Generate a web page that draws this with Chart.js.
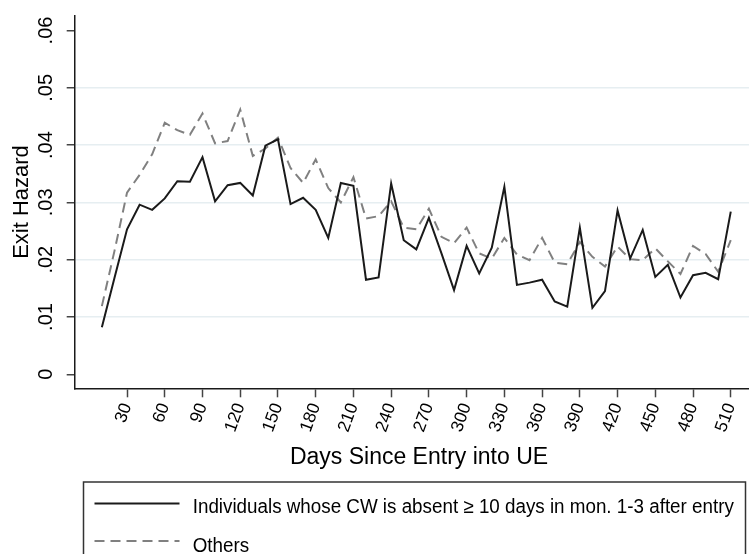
<!DOCTYPE html>
<html lang="en">
<head>
    <meta charset="UTF-8">
    <title>Exit Hazard by Days Since Entry into UE</title>
    <style>
        html, body { margin: 0; padding: 0; background: #fff; }
        .chart { width: 749px; height: 554px; }
    </style>
</head>
<body>
    <div class="chart">
        <canvas id="hazardChart" width="749" height="554"></canvas>
    </div>

    <script src="https://cdn.jsdelivr.net/npm/chart.js"></script>
    <script>
        const days = [10, 20, 30, 40, 50, 60, 70, 80, 90, 100,
                      110, 120, 130, 140, 150, 160, 170, 180, 190, 200,
                      210, 220, 230, 240, 250, 260, 270, 280, 290, 300,
                      310, 320, 330, 340, 350, 360, 370, 380, 390, 400,
                      410, 420, 430, 440, 450, 460, 470, 480, 490, 500, 510];

        const absentHazard = [0.0082, 0.0168, 0.0253, 0.0296, 0.0287, 0.0307, 0.0337, 0.0336, 0.0379, 0.0302,
                              0.0330, 0.0334, 0.0312, 0.0399, 0.0410, 0.0297, 0.0308, 0.0287, 0.0238, 0.0334,
                              0.0329, 0.0165, 0.0169, 0.0333, 0.0234, 0.0218, 0.0273, 0.0211, 0.0147, 0.0224,
                              0.0176, 0.0221, 0.0327, 0.0156, 0.0160, 0.0165, 0.0127, 0.0118, 0.0256, 0.0116,
                              0.0145, 0.0286, 0.0202, 0.0252, 0.0170, 0.0191, 0.0134, 0.0173, 0.0177, 0.0166, 0.0284];

        const othersHazard = [0.0119, 0.0215, 0.0317, 0.0348, 0.0384, 0.0439, 0.0426, 0.0418, 0.0455, 0.0403,
                              0.0407, 0.0462, 0.0381, 0.0394, 0.0413, 0.0360, 0.0334, 0.0375, 0.0325, 0.0300,
                              0.0344, 0.0272, 0.0276, 0.0302, 0.0256, 0.0253, 0.0289, 0.0240, 0.0229, 0.0256,
                              0.0211, 0.0202, 0.0238, 0.0209, 0.0199, 0.0238, 0.0195, 0.0192, 0.0231, 0.0205,
                              0.0188, 0.0223, 0.0201, 0.0199, 0.0220, 0.0197, 0.0175, 0.0224, 0.0210, 0.0179, 0.0234];

        const xTicks = [30, 60, 90, 120, 150, 180, 210, 240, 270, 300, 330, 360, 390, 420, 450, 480, 510];
        const yTicks = [0, 0.01, 0.02, 0.03, 0.04, 0.05, 0.06];
        const yTickLabels = ['0', '.01', '.02', '.03', '.04', '.05', '.06'];
        const xTitle = 'Days Since Entry into UE';
        const seriesNames = ['Individuals whose CW is absent \u2265 10 days in mon. 1-3 after entry', 'Others'];

        const fontFamily = '"Liberation Sans", Arial, Helvetica, sans-serif';
        Chart.defaults.font.family = fontFamily;
        Chart.defaults.color = '#000';

        const toPoints = (vals) => days.map((d, i) => ({ x: d, y: vals[i] }));

        // x title + boxed legend underneath, like the Stata one
        // (stata centres these on a plot region that runs a little past the picture)
        const boxLegend = {
            id: 'boxLegend',
            afterDraw(chart) {
                const ctx = chart.ctx;
                const rows = [503.5, 541];
                const baselines = [513.3, 551.5];
                ctx.save();

                ctx.font = '23px ' + fontFamily;
                ctx.fillStyle = '#000';
                ctx.textAlign = 'center';
                ctx.textBaseline = 'alphabetic';
                ctx.fillText(xTitle, 419, 464);

                ctx.strokeStyle = '#333';
                ctx.lineWidth = 1.5;
                ctx.strokeRect(83.5, 482, 662, 100);
                ctx.font = '20px ' + fontFamily;
                ctx.textAlign = 'left';
                chart.data.datasets.forEach((ds, i) => {
                    ctx.beginPath();
                    ctx.strokeStyle = ds.borderColor;
                    ctx.lineWidth = ds.borderWidth;
                    ctx.setLineDash(ds.borderDash || []);
                    ctx.moveTo(94.5, rows[i]);
                    ctx.lineTo(179.5, rows[i]);
                    ctx.stroke();
                    ctx.setLineDash([]);
                    // legend font is a bit narrower
                    const w = ctx.measureText(ds.label).width * 0.94;
                    ctx.fillText(ds.label, 192.7, baselines[i], w);
                });
                ctx.restore();
            }
        };

        new Chart(document.getElementById('hazardChart'), {
            type: 'line',
            data: {
                datasets: [{
                    label: seriesNames[0],
                    data: toPoints(absentHazard),
                    borderColor: '#1a1a1a',
                    borderWidth: 2,
                    pointRadius: 0,
                    tension: 0
                }, {
                    label: seriesNames[1],
                    data: toPoints(othersHazard),
                    borderColor: '#808080',
                    borderWidth: 2,
                    borderDash: [10, 6],
                    pointRadius: 0,
                    tension: 0
                }]
            },
            options: {
                responsive: false,
                animation: false,
                devicePixelRatio: 1,
                layout: { padding: { top: 15.7, right: 0, bottom: 72, left: 0 } },
                plugins: {
                    legend: { display: false },
                    tooltip: { enabled: false }
                },
                scales: {
                    x: {
                        type: 'linear',
                        min: -11.6,
                        max: 524.5,
                        afterBuildTicks: (scale) => { scale.ticks = xTicks.map(v => ({ value: v })); },
                        afterFit: (scale) => {
                            scale.height = 93.7;
                            scale.paddingLeft = 0;
                            scale.paddingRight = 0;
                        },
                        border: { color: '#1a1a1a', width: 1.5 },
                        grid: {
                            drawOnChartArea: false,
                            drawTicks: true,
                            tickLength: 9,
                            tickColor: '#444',
                            tickWidth: 1.5
                        },
                        ticks: {
                            autoSkip: false,
                            minRotation: 70,
                            maxRotation: 70,
                            padding: 3,
                            font: { size: 17.5 },
                            color: '#000'
                        }
                    },
                    y: {
                        min: -0.002443,
                        max: 0.06258,
                        afterBuildTicks: (scale) => { scale.ticks = yTicks.map(v => ({ value: v })); },
                        afterFit: (scale) => {
                            scale.width = 74.7;
                            scale.paddingTop = 0;
                            scale.paddingBottom = 0;
                        },
                        border: { color: '#1a1a1a', width: 1.5 },
                        grid: {
                            color: (ctx) => (ctx.tick && (ctx.tick.value === 0 || ctx.tick.value === 0.06)) ? 'rgba(0,0,0,0)' : '#e6eef1',
                            lineWidth: 1.5,
                            drawTicks: true,
                            tickLength: 8,
                            tickColor: '#444',
                            tickWidth: 1.5
                        },
                        ticks: {
                            minRotation: 90,
                            maxRotation: 90,
                            crossAlign: 'center',
                            padding: 6,
                            font: { size: 20 },
                            color: '#000',
                            callback: (value, index) => yTickLabels[index]
                        },
                        title: {
                            display: true,
                            text: 'Exit Hazard',
                            font: { size: 22 },
                            color: '#000',
                            padding: { top: 9, bottom: 0 }
                        }
                    }
                }
            },
            plugins: [boxLegend]
        });
    </script>
</body>
</html>
